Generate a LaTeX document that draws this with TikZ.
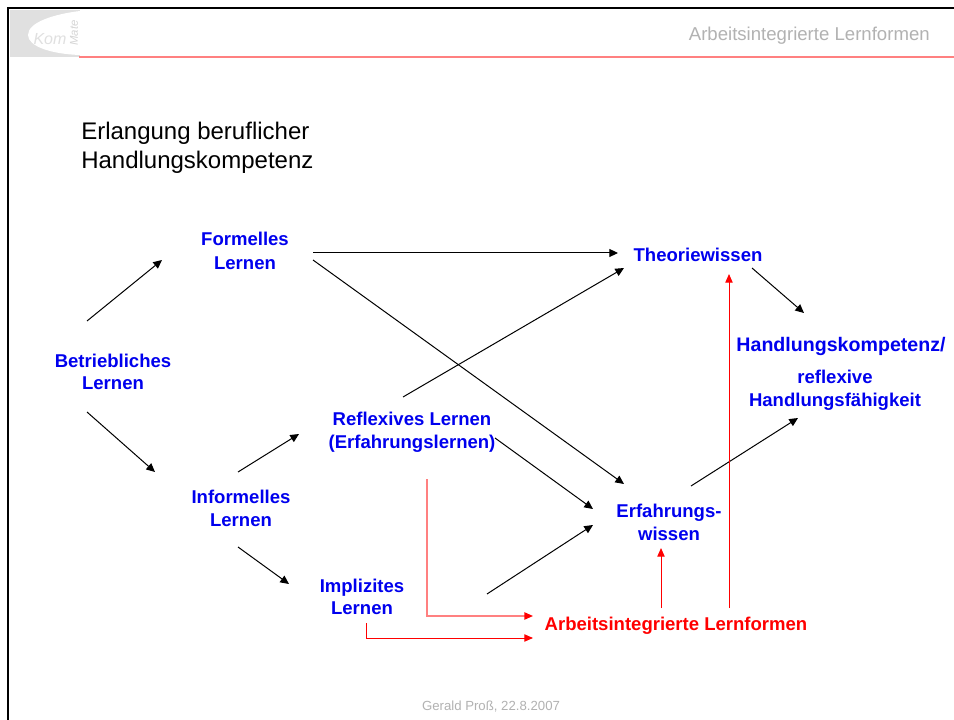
\documentclass[tikz,border=0pt]{standalone}
\usepackage{fontspec}
\setmainfont{Liberation Sans}
\usetikzlibrary{arrows.meta}
\definecolor{lblue}{RGB}{0,0,238}
\definecolor{lred}{RGB}{255,0,0}
\definecolor{pink}{RGB}{255,128,128}
\definecolor{greytext}{RGB}{178,178,178}
\definecolor{logogrey}{RGB}{224,224,224}
\tikzset{
  x=0.75pt,y=-0.75pt,
  lbl/.style={font=\fontsize{13.9}{17}\selectfont\bfseries,text=lblue,align=center,inner sep=0pt},
  redlbl/.style={font=\fontsize{13.9}{17}\selectfont\bfseries,text=lred,align=center,inner sep=0pt},
  arr/.style={draw=black,line width=0.75pt,-{Triangle[length=6.5pt,width=6pt]}},
  redarr/.style={draw=lred,line width=0.75pt,-{Triangle[length=6.5pt,width=5.5pt]}},
  pinkarr/.style={draw=pink,line width=1.1pt,-{Triangle[length=6.5pt,width=5.5pt,color=lred,fill=lred]}},
}
\begin{document}
\begin{tikzpicture}
\useasboundingbox (0,0) rectangle (954,720);
\fill[white] (0,0) rectangle (954,720);
% logo
\fill[logogrey] (10,10) rectangle (80,57);
\fill[white] (80,11) .. controls (55,14) and (28,22) .. (28,35) .. controls (28,46) and (50,54) .. (80,55) -- cycle;
\node[inner sep=0pt,text=logogrey,font=\fontsize{12}{12}\selectfont\itshape] (logokom) at (50,39) {Kom};
\node[inner sep=0pt,text=logogrey!95!black,rotate=90,font=\fontsize{8.5}{9}\selectfont\itshape] (logomate) at (74,33) {Mate};
% frame
\draw[black,line width=1.6pt] (8,720) -- (8,8) -- (954,8);
\draw[pink,line width=1.3pt] (79,57) -- (954,57);
% header and footer
\node[anchor=east,inner sep=0pt,text=greytext,font=\fontsize{13.95}{15}\selectfont] (hdr) at (930,36) {Arbeitsintegrierte Lernformen};
\node[inner sep=0pt,text=greytext,font=\fontsize{9.9}{11}\selectfont] (ftr) at (491,706.5) {Gerald Proß, 22.8.2007};
\node[anchor=west,inner sep=0pt,align=left,font=\fontsize{18}{21.7}\selectfont] (title) at (81,148) {Erlangung beruflicher\\Handlungskompetenz};
% labels
\node[lbl] (formell) at (245,251) {Formelles\\[1.2pt]Lernen};
\node[lbl] (betrieb) at (113,372) {Betriebliches\\Lernen};
\node[lbl] (informell) at (241,508.5) {Informelles\\[0.7pt]Lernen};
\node[lbl] (reflex) at (412,432) {Reflexives Lernen\\(Erfahrungslernen)};
\node[lbl] (implizit) at (362,597) {Implizites\\Lernen};
\node[lbl] (theorie) at (698,255) {Theoriewissen};
\node[lbl,font=\fontsize{14.7}{17}\selectfont\bfseries] (handkomp) at (841,346) {Handlungskompetenz/};
\node[lbl] (handfaehig) at (835,390) {reflexive\\Handlungsfähigkeit};
\node[lbl] (erfahrung) at (669,522.5) {Erfahrungs-\\[0.7pt]wissen};
\node[redlbl] (arbeit) at (676,626) {Arbeitsintegrierte Lernformen};
% connector end points
\coordinate (a1) at (87,321); \coordinate (a2) at (162,260);
\coordinate (b1) at (87,412); \coordinate (b2) at (155,472);
\coordinate (c1) at (313,253); \coordinate (c2) at (618,253);
\coordinate (d1) at (313,260); \coordinate (d2) at (624,484);
\coordinate (e1) at (403,397); \coordinate (e2) at (624,268);
\coordinate (f1) at (238,472); \coordinate (f2) at (299,434);
\coordinate (g1) at (238,547); \coordinate (g2) at (289,584);
\coordinate (h1) at (495,438); \coordinate (h2) at (593,509);
\coordinate (i1) at (487,594); \coordinate (i2) at (593,525);
\coordinate (j1) at (752,268); \coordinate (j2) at (804,313);
\coordinate (k1) at (691,486); \coordinate (k2) at (798,418);
\coordinate (l1) at (729,608); \coordinate (l2) at (729,274);
\coordinate (m1) at (661,608); \coordinate (m2) at (661,548);
\coordinate (n1) at (427,479); \coordinate (n2) at (427,616); \coordinate (n3) at (533,616);
\coordinate (o1) at (366,623); \coordinate (o2) at (366,638); \coordinate (o3) at (533,638);
% black connectors
\draw[arr] (a1) -- (a2);
\draw[arr] (b1) -- (b2);
\draw[arr] (c1) -- (c2);
\draw[arr] (d1) -- (d2);
\draw[arr] (e1) -- (e2);
\draw[arr] (f1) -- (f2);
\draw[arr] (g1) -- (g2);
\draw[arr] (h1) -- (h2);
\draw[arr] (i1) -- (i2);
\draw[arr] (j1) -- (j2);
\draw[arr] (k1) -- (k2);
% red connectors
\draw[redarr] (l1) -- (l2);
\draw[redarr] (m1) -- (m2);
\draw[pinkarr] (n1) -- (n2) -- (n3);
\draw[redarr] (o1) -- (o2) -- (o3);
\end{tikzpicture}
\end{document}
